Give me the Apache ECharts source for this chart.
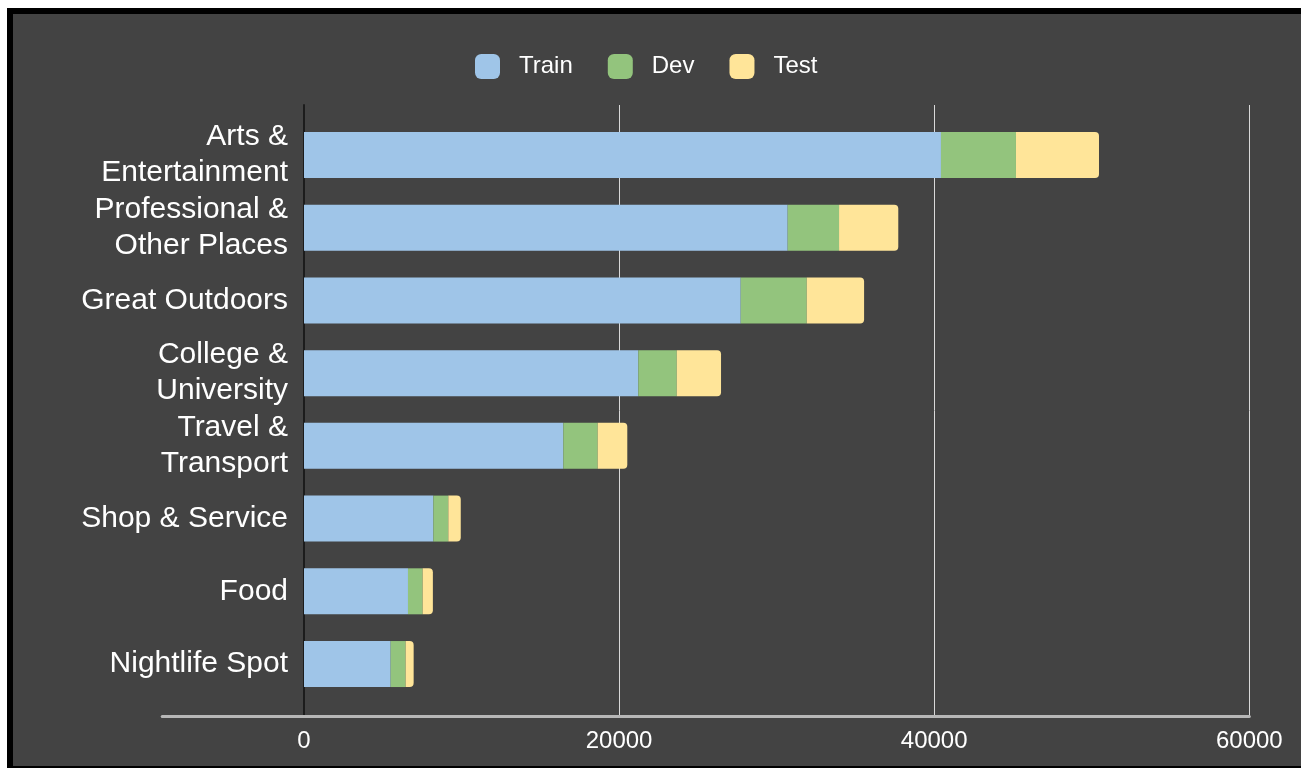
<!DOCTYPE html>
<html>
<head>
<meta charset="utf-8">
<script src="https://cdn.jsdelivr.net/npm/echarts@6/dist/echarts.min.js"></script>
<style>
  html, body { margin: 0; padding: 0; background: #ffffff; overflow: hidden; }
  #frame { position: absolute; left: 7px; top: 8px; width: 1320px; height: 764px; box-sizing: border-box; border: 6px solid #000; background: #434343; }
  #chart { position: absolute; left: 0; top: 0; width: 1301px; height: 768px; }
</style>
</head>
<body>
<div id="frame"></div>
<div id="chart"></div>
<script>
const categories = [
  'Arts &\nEntertainment',
  'Professional &\nOther Places',
  'Great Outdoors',
  'College &\nUniversity',
  'Travel &\nTransport',
  'Shop & Service',
  'Food',
  'Nightlife Spot'
];
const seriesNames = ['Train', 'Dev', 'Test'];
const trainValues = [40430, 30700, 27720, 21220, 16460, 8210, 6600, 5500];
const devValues   = [4760, 3260, 4190, 2440, 2180, 950, 930, 950];
const testValues  = [5270, 3760, 3640, 2810, 1880, 790, 650, 510];
const xTicks = [0, 20000, 40000, 60000];

const colors = ['#9fc5e8', '#93c47d', '#ffe599'];
const font = '"Liberation Sans", Arial, sans-serif';

const chart = echarts.init(document.getElementById('chart'), null, { renderer: 'canvas' });

const xMin = xTicks[0], xMax = xTicks[xTicks.length - 1], xStep = xTicks[1] - xTicks[0];

const option = {
  backgroundColor: 'transparent',
  animation: false,
  color: colors,
  legend: {
    data: seriesNames,
    left: 470,
    top: 49,
    itemWidth: 25,
    itemHeight: 25,
    itemGap: 35,
    icon: 'roundRect',
    textStyle: { color: '#ffffff', fontSize: 24, fontFamily: font, padding: [0, 0, 0, 14] }
  },
  grid: [
    { left: 304, right: 51.7, top: 118.6, bottom: 67.6 },
    { left: 304, right: 51.7, top: 105, bottom: 52 },
    { left: 162.2, right: 51.7, top: 105, bottom: 52 }
  ],
  xAxis: [
    { gridIndex: 0, type: 'value', min: xMin, max: xMax, interval: xStep, show: false },
    {
      gridIndex: 1, type: 'value', min: xMin, max: xMax, interval: xStep,
      axisLine: { show: false }, axisTick: { show: false },
      splitLine: { show: true, lineStyle: { color: '#d9d9d9', width: 1 } },
      axisLabel: { color: '#ffffff', fontSize: 24, fontFamily: font, margin: 13,
        formatter: function (v) { return String(v); } }
    },
    {
      gridIndex: 2, type: 'value', min: -9000, max: xMax,
      axisLine: { show: true, onZero: false, lineStyle: { color: '#b7b7b7', width: 3 } },
      axisTick: { show: false }, axisLabel: { show: false }, splitLine: { show: false }
    }
  ],
  yAxis: [
    {
      gridIndex: 0, type: 'category', data: categories, inverse: true,
      axisLine: { show: false }, axisTick: { show: false },
      axisLabel: { color: '#ffffff', fontSize: 30, lineHeight: 36, fontFamily: font, margin: 16, align: 'right',
        interval: 0 }
    },
    {
      gridIndex: 1, type: 'value', min: 0, max: 1,
      axisLine: { show: true, onZero: false, lineStyle: { color: '#1c1c1c', width: 2 } },
      axisTick: { show: false }, axisLabel: { show: false }, splitLine: { show: false }
    },
    {
      gridIndex: 2, type: 'value', min: 0, max: 1, show: false
    }
  ],
  series: [
    { name: 'Train', type: 'bar', stack: 'total', xAxisIndex: 0, yAxisIndex: 0, barWidth: 46, data: trainValues },
    { name: 'Dev', type: 'bar', stack: 'total', xAxisIndex: 0, yAxisIndex: 0, barWidth: 46, data: devValues },
    { name: 'Test', type: 'bar', stack: 'total', xAxisIndex: 0, yAxisIndex: 0, barWidth: 46, data: testValues,
      itemStyle: { borderRadius: [0, 4, 4, 0] } }
  ]
};
chart.setOption(option);
</script>
</body>
</html>
